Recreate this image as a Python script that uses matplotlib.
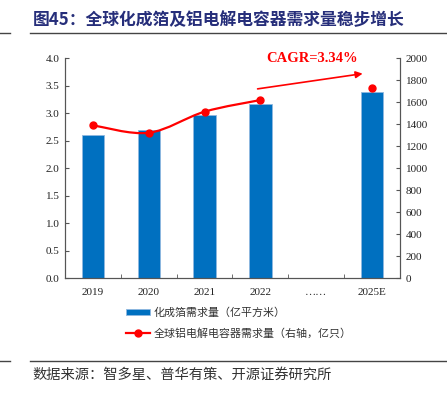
import matplotlib
matplotlib.use("Agg")
import matplotlib.pyplot as plt
from matplotlib.path import Path
from matplotlib.patches import PathPatch
from matplotlib.lines import Line2D
from matplotlib.patches import Patch
import numpy as np

categories = ["2019", "2020", "2021", "2022", "……", "2025E"]
foil_demand = [2.60, 2.70, 2.96, 3.17, None, 3.38]          # 亿平方米 (left)
capacitor_demand = [1390, 1322, 1514, 1620, None, 1733]     # 亿只 (right)
left_ticks = [0.0, 0.5, 1.0, 1.5, 2.0, 2.5, 3.0, 3.5, 4.0]
right_ticks = [0, 200, 400, 600, 800, 1000, 1200, 1400, 1600, 1800, 2000]
title = "图45：全球化成箔及铝电解电容器需求量稳步增长"
source = "数据来源：智多星、普华有策、开源证券研究所"
legend_labels = ["化成箔需求量（亿平方米）", "全球铝电解电容器需求量（右轴，亿只）"]
cagr_text = "CAGR=3.34%"

CJK = ["Noto Sans CJK SC", "DejaVu Sans"]
SERIF = ["Liberation Serif", "DejaVu Serif"]
BLUE = "#0070C0"
RED = "#FF0000"

fig = plt.figure(figsize=(4.47, 3.99), dpi=100)
ax = fig.add_axes([65/447, 1-278/399, 335/447, (278-58.3)/399])
ax2 = ax.twinx()

x = np.arange(len(categories))
bx = [i for i, v in enumerate(foil_demand) if v is not None]
bv = [foil_demand[i] for i in bx]
ax.bar(bx, bv, width=0.4, color=BLUE, edgecolor="#8FB8E0", linewidth=0.6, zorder=2)

ax.set_xlim(-0.5, len(categories) - 0.5)
ax.set_ylim(0, 4.0)
ax.set_yticks(left_ticks)
ax.set_yticklabels([f"{t:.1f}" for t in left_ticks])
ax.set_xticks(x)
ax.set_xticklabels(categories)
ax.set_xticks(np.arange(0.5, len(categories) - 1), minor=True)
ax.tick_params(axis="x", which="major", length=0, pad=7)
ax.tick_params(axis="x", which="minor", length=3, direction="in", color="#555555")
ax.tick_params(axis="y", length=3, direction="in", color="#555555", pad=4)

ax2.set_ylim(0, 2000)
ax2.set_yticks(right_ticks)
ax2.set_yticklabels([str(t) for t in right_ticks])
ax2.tick_params(axis="y", length=3, direction="in", color="#555555", pad=4)

for a in (ax, ax2):
    a.spines["top"].set_visible(False)
    for s in ("left", "right", "bottom"):
        a.spines[s].set_color("#555555")
        a.spines[s].set_linewidth(0.8)
    for lab in a.get_xticklabels() + a.get_yticklabels():
        lab.set_family(SERIF)
        lab.set_fontsize(8)
        lab.set_color("#222222")

# smoothed line through the first four points (Bezier path from the data)
lx = [i for i, v in enumerate(capacitor_demand[:4]) if v is not None]
ly = [capacitor_demand[i] for i in lx]
pts = np.column_stack([lx, ly]).astype(float)
verts = [tuple(pts[0])]
codes = [Path.MOVETO]
n = len(pts)
for i in range(n - 1):
    p0 = pts[i - 1] if i > 0 else pts[i]
    p1 = pts[i]
    p2 = pts[i + 1]
    p3 = pts[i + 2] if i + 2 < n else pts[i + 1]
    c1 = p1 + (p2 - p0) / 6.0
    c2 = p2 - (p3 - p1) / 6.0
    verts += [tuple(c1), tuple(c2), tuple(p2)]
    codes += [Path.CURVE4] * 3
ax2.add_patch(PathPatch(Path(verts, codes), facecolor="none", edgecolor=RED, lw=1.6, zorder=3))
mx = [i for i, v in enumerate(capacitor_demand) if v is not None]
my = [capacitor_demand[i] for i in mx]
ax2.plot(mx, my, linestyle="none", marker="o", markersize=5, color=RED, zorder=4)

# CAGR arrow and text
ax2.annotate("", xy=(4.88, 1864), xytext=(2.9, 1718),
             arrowprops=dict(arrowstyle="-|>", color=RED, lw=1.2, mutation_scale=10))
fig.text(312/447, 1-58/399, cagr_text, color=RED, fontsize=10.5, fontweight="bold",
         family=SERIF, ha="center", va="center")

# legend
handles = [Patch(facecolor=BLUE, edgecolor="#8FB8E0", linewidth=0.6),
           Line2D([], [], color=RED, lw=1.6, marker="o", markersize=5)]
leg = fig.legend(handles, legend_labels, loc="upper left",
                 bbox_to_anchor=(126/447, 1-307/399), frameon=False,
                 borderpad=0, borderaxespad=0, handlelength=2.2, handleheight=0.5,
                 handletextpad=0.3, labelspacing=0.95,
                 prop={"family": CJK, "size": 7.9})
for t in leg.get_texts():
    t.set_color("#333333")

# title, source, rules
fig.text(33/447, 1-20/399, title, family=CJK, fontsize=12.1, fontweight="bold",
         color="#262E7A", ha="left", va="center")
fig.text(32/447, 1-375/399, source, family=CJK, fontsize=10.3, color="#333333",
         ha="left", va="center")
for yy in (33, 361):
    fig.add_artist(Line2D([30/447, 1], [1-yy/399]*2, color="#444444", lw=1))
    fig.add_artist(Line2D([0, 10/447], [1-yy/399]*2, color="#444444", lw=1))

fig.savefig("out.png", dpi=100)
